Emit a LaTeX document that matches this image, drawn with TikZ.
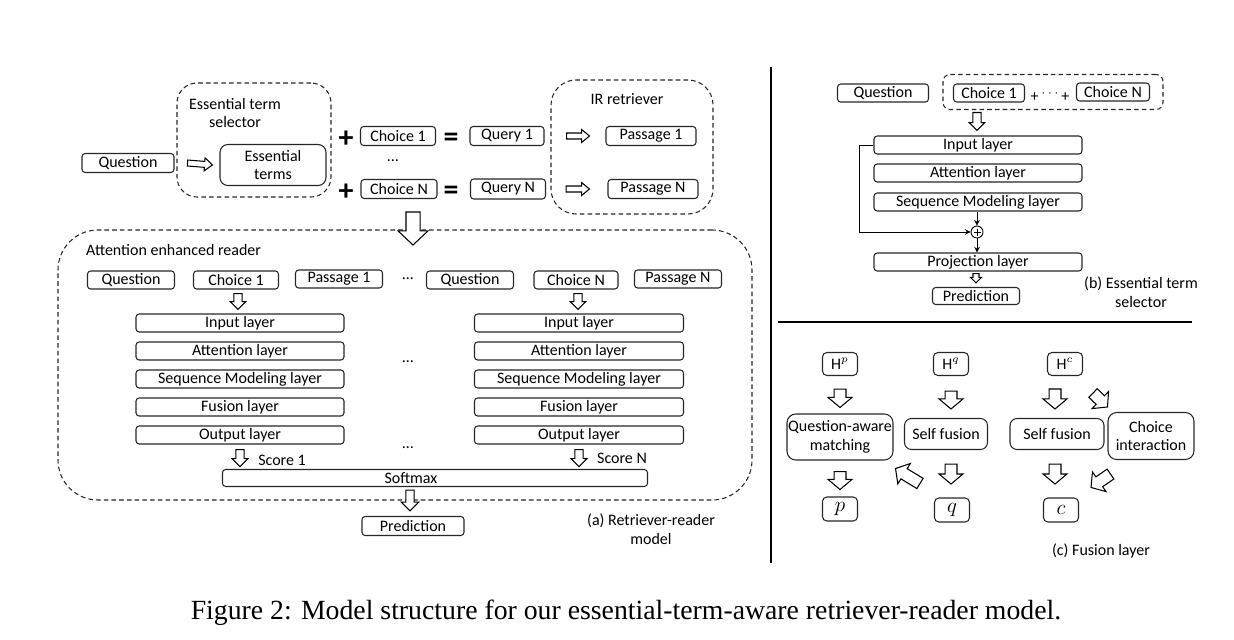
\documentclass[tikz,border=0pt]{standalone}
\usepackage{fontspec}
\setmainfont{Carlito}
\newfontfamily\capfont{Liberation Serif}
\usetikzlibrary{positioning,arrows.meta,calc}

% hollow block arrow: from, to, shaft half width, head half width, head length
\newcommand\harrow[5]{%
  \coordinate (hwA) at #1;
  \coordinate (hwB) at #2;
  \coordinate (hwC) at ($(hwB)!#5!(hwA)$);
  \draw[fill=white,line width=0.6pt,line join=miter]
    ($(hwA)!#3!90:(hwB)$) -- ($(hwC)!#3!90:(hwB)$) -- ($(hwC)!#4!90:(hwB)$) -- (hwB)
    -- ($(hwC)!#4!-90:(hwB)$) -- ($(hwC)!#3!-90:(hwB)$) -- ($(hwA)!#3!-90:(hwB)$) -- cycle;}

\begin{document}
\begin{tikzpicture}[
  x=0.02cm,y=-0.02cm,
  font=\fontsize{9.1}{10.6}\selectfont,
  box/.style={draw=black!85,line width=0.6pt,rounded corners=1.8pt,inner sep=0pt,align=center},
  bw/.style={minimum width=#1*0.02cm},
  bh/.style={minimum height=#1*0.02cm},
  grp/.style={draw=black!85,line width=0.6pt,dash pattern=on 2.6pt off 1.8pt,inner sep=0pt},
  lnk/.style={-{Stealth[length=3.2pt,width=3.2pt]},line width=0.45pt},
  sym/.style={font=\fontsize{17}{17}\selectfont\bfseries},
]
\useasboundingbox (0,0) rectangle (1234,639);

% (a) retriever
\node[box,bw=92,bh=19] (q0) at (128,163) {Question};
\node[grp,rounded corners=0.4cm,bw=154,bh=114] (ets) at (254,140) {};
\node[align=center] (etst) at (235,113) {Essential term\\selector};
\node[box,bw=106,bh=41,rounded corners=4.5pt] (et) at (273,165) {Essential\\terms};
\harrow{($(q0.east)+(13,0)$)}{($(et.west)+(-7,0)$)}{1.7pt}{3.7pt}{4.5pt}

\node[sym] (pl1) at (346,139) {+};
\node[sym] (plN) at (346,192) {+};
\node[box,bw=75,bh=19] (c1) at (398,136) {Choice 1};
\node (cdots) at (393,161) {\ldots};
\node[box,bw=76,bh=19] (cN) at (399,189) {Choice N};
\node[sym] (eq1) at (451,140) {=};
\node[sym] (eqN) at (451,193) {=};
\node[box,bw=74,bh=19] (qr1) at (507,136) {Query 1};
\node[box,bw=75,bh=20] (qrN) at (508,189) {Query N};

\node[grp,rounded corners=0.5cm,bw=162,bh=134] (ir) at (632,147) {};
\node (irt) at (627,99) {IR retriever};
\node[box,bw=90,bh=19] (pa1) at (651,136) {Passage 1};
\node[box,bw=90,bh=19] (paN) at (653,189) {Passage N};
\harrow{($(qr1.east)+(22,0)$)}{($(pa1.west)+(-16,0)$)}{1.7pt}{3.7pt}{4.5pt}
\harrow{($(qrN.east)+(20,0)$)}{($(paN.west)+(-18,0)$)}{1.7pt}{3.7pt}{4.5pt}

% (a) reader
\node[grp,rounded corners=0.8cm,bw=694,bh=270] (rd) at (405,365) {};
\node[anchor=west] (rdt) at (80,250) {Attention enhanced reader};
\coordinate (dn) at (413,212);
\harrow{(dn)}{($(dn)+(0,33)$)}{4pt}{8.5pt}{8pt}

\node[box,bw=87,bh=18] (rq1) at (131,280) {Question};
\node[box,bw=85,bh=18] (rc1) at (236,280) {Choice 1};
\node[box,bw=87,bh=18] (rp1) at (339,279) {Passage 1};
\node (rdots) at (408,279) {\ldots};
\node[box,bw=87,bh=18] (rqN) at (470,280) {Question};
\node[box,bw=84,bh=18] (rcN) at (576,280) {Choice N};
\node[box,bw=87,bh=18] (rpN) at (678,279) {Passage N};

\foreach \y/\t/\n in {323/Input layer/in,351/Attention layer/att,379/Sequence Modeling layer/seq,407/Fusion layer/fus,435/Output layer/out}{
  \node[box,bw=208,bh=18] (l\n) at (240,\y) {\t};
  \node[box,bw=209,bh=18] (r\n) at (579,\y) {\t};
}
\harrow{($(rc1.south)+(2,4)$)}{($(rc1.south |- lin.north)+(2,-4)$)}{2.3pt}{4.5pt}{4.5pt}
\harrow{($(rcN.south)+(2,4)$)}{($(rcN.south |- rin.north)+(2,-4)$)}{2.3pt}{4.5pt}{4.5pt}
\node (mdots1) at (408,362) {\ldots};
\node (mdots2) at (408,448) {\ldots};

\node[box,bw=425,bh=17] (sm) at (435,478) {};
\node (smt) at (411,478) {Softmax};
\harrow{($(lout.south)+(0,5)$)}{($(lout.south)+(0,22)$)}{2.3pt}{4.5pt}{4.5pt}
\harrow{($(rout.south)+(0,5)$)}{($(rout.south)+(0,22)$)}{2.3pt}{4.5pt}{4.5pt}
\node (s1) at (282,460) {Score 1};
\node (sN) at (622,458) {Score N};

\node[box,bw=102,bh=19] (pred) at (413,526) {Prediction};
\harrow{($(sm.south -| pred.north)+(-3,3)$)}{($(pred.north)+(-3,-5)$)}{2.3pt}{5pt}{5pt}
\node[align=center] (capa) at (651,529) {(a) Retriever-reader\\model};

% separators
\draw[line width=0.8pt] (771,67) -- (771,563);
\draw[line width=0.8pt] (778,322) -- (1192,322);

% (b) essential term selector
\node[box,bw=91,bh=18] (bq) at (883,93) {Question};
\node[grp,rounded corners=4pt,bw=220,bh=35] (bch) at (1053,92) {};
\node[box,bw=71,bh=18] (bc1) at (989,93) {Choice 1};
\node (bdots) at (1050,96) {+\,\raisebox{2.5pt}{\scriptsize$\cdots$}\,+};
\node[box,bw=73,bh=18] (bcN) at (1113,92) {Choice N};
\foreach \y/\t/\n in {145/Input layer/in,173/Attention layer/att,202/Sequence Modeling layer/seq,262/Projection layer/proj}{
  \node[box,bw=208,bh=18] (b\n) at (978,\y) {\t};
}
\harrow{($(bin.north)+(-1,-23)$)}{($(bin.north)+(-1,-5)$)}{2.3pt}{4.5pt}{4.5pt}
\node[circle,draw,line width=0.5pt,inner sep=0pt,minimum size=12*0.02cm] (add) at (977,232) {};
\draw[line width=0.5pt] ($(add.center)+(-3.5,0)$) -- ($(add.center)+(3.5,0)$)
  ($(add.center)+(0,-3.5)$) -- ($(add.center)+(0,3.5)$);
\draw[lnk] (bseq.south -| add.north) -- (add.north);
\draw[lnk] (add.south) -- (add.south |- bproj.north);
\draw[lnk] (bin.west) -- ++(-14,0) |- (add.west);
\node[box,bw=87,bh=17] (bpred) at (976,296) {Prediction};
\harrow{($(bproj.south)+(-2,2)$)}{($(bpred.north)+(0,-4)$)}{1.7pt}{3.2pt}{3.2pt}
\node[align=center] (capb) at (1141,292) {(b) Essential term\\selector};

% (c) fusion layer
\node[box,bw=35,bh=23,rounded corners=2.5pt] (hp) at (840,364) {H$^{p}$};
\node[box,bw=35,bh=23,rounded corners=2.5pt] (hq) at (951,364) {H$^{q}$};
\node[box,bw=35,bh=23,rounded corners=2.5pt] (hc) at (1065,364) {H$^{c}$};
\node[box,bw=106,bh=46,rounded corners=5pt] (qam) at (840,437) {Question-aware\\matching};
\node[box,bw=83,bh=31,rounded corners=4pt] (sf1) at (946,434) {Self fusion};
\node[box,bw=94,bh=31,rounded corners=4pt] (sf2) at (1057,434) {Self fusion};
\node[box,bw=86,bh=47,rounded corners=5pt] (ci) at (1151,436) {Choice\\interaction};
\node[box,bw=35,bh=24,rounded corners=2.5pt,font=\large] (vp) at (840,509) {$p$};
\node[box,bw=35,bh=24,rounded corners=2.5pt,font=\large] (vq) at (952,510) {$q$};
\node[box,bw=35,bh=24,rounded corners=2.5pt,font=\large] (vc) at (1061,510) {$c$};

\harrow{($(hp.south)+(0,13)$)}{($(qam.north)+(0,-6)$)}{3.4pt}{6.8pt}{5.7pt}
\harrow{($(hq.south)+(0,15)$)}{($(hq.south |- sf1.north)+(0,-9)$)}{3.4pt}{6.8pt}{5.7pt}
\harrow{($(sf2.north)+(-2,-29)$)}{($(sf2.north)+(-2,-9)$)}{3.4pt}{6.8pt}{5.7pt}
\harrow{($(hc.south east)+(10,17)$)}{($(ci.north west)+(0,-5)$)}{3.4pt}{6.8pt}{5.7pt}
\harrow{($(qam.south)+(0,11)$)}{($(vp.north)+(0,-7)$)}{3.4pt}{6.8pt}{5.7pt}
\harrow{($(sf1.south)+(5,14)$)}{($(sf1.south)+(5,34)$)}{3.4pt}{6.8pt}{5.7pt}
\harrow{($(sf2.south)+(-2,14)$)}{($(sf2.south)+(-2,34)$)}{3.4pt}{6.8pt}{5.7pt}
\harrow{($(ci.south west)+(3,14)$)}{($(vc.north east)+(12,-10)$)}{3.4pt}{6.8pt}{5.7pt}
\harrow{($(vq.north west)+(-14,-14)$)}{($(qam.south east)+(2,8)$)}{3.4pt}{6.8pt}{5.7pt}
\node (capc) at (1101,551) {(c) Fusion layer};

% figure caption
\node[font=\capfont\fontsize{15.8}{18}\selectfont] (fig) at (626,613)
  {Figure 2: Model structure for our essential-term-aware retriever-reader model.};
\end{tikzpicture}
\end{document}
